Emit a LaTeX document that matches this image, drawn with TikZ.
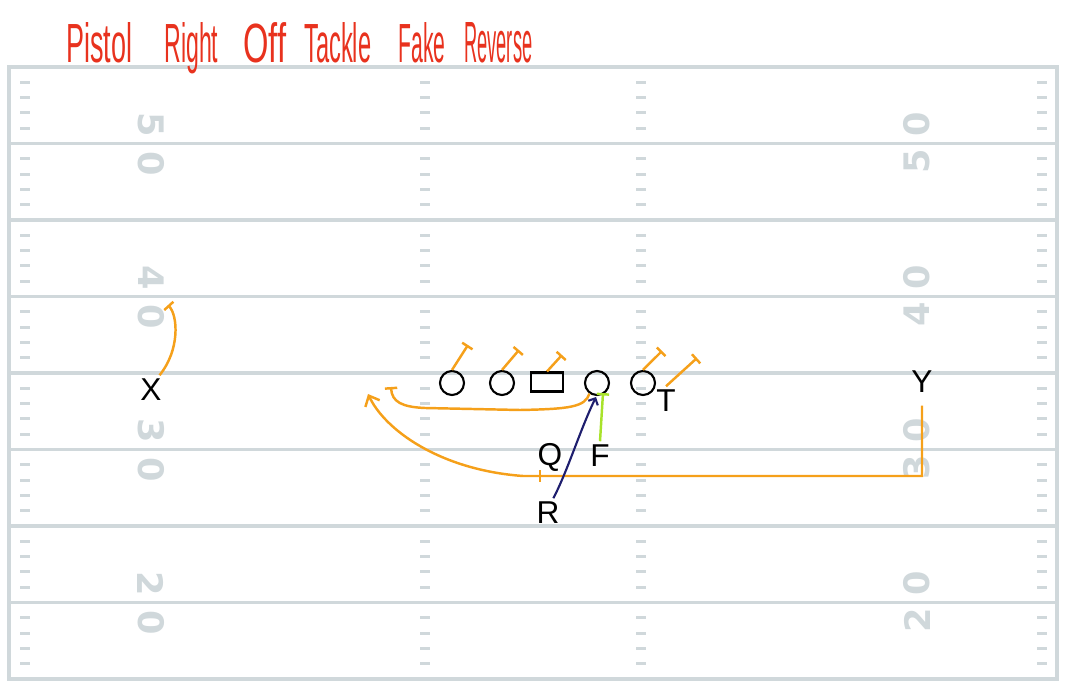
\documentclass[tikz,border=0pt]{standalone}
\usepackage{fontspec}
\setmainfont{Liberation Sans}
\newfontfamily\yardfont{DejaVu Sans}
\usepackage{xcolor}
\usepackage{graphicx}
\usepackage{tikz}
\usetikzlibrary{arrows.meta}
\definecolor{fieldgray}{HTML}{D0D8DB}
\definecolor{routeorange}{HTML}{F5A01A}
\definecolor{titlered}{HTML}{E8321E}
\definecolor{fakenavy}{HTML}{1E1E6E}
\definecolor{fblockgreen}{HTML}{A8E22A}

\begin{document}
\begin{tikzpicture}[x=0.02cm, y=-0.02cm,
    yardline/.style={draw=fieldgray, line width=1.8pt},
    yardnum/.style={text=fieldgray, font=\fontsize{20}{20}\yardfont\bfseries, inner sep=0},
    hand/.style={text=titlered, anchor=base west, inner sep=0},
    player/.style={shape=circle, draw=black, line width=1.2pt, minimum size=0.48cm, inner sep=0},
    ctrbox/.style={shape=rectangle, draw=black, line width=1.2pt, minimum width=0.64cm, minimum height=0.38cm, inner sep=0},
    lbl/.style={font=\fontsize{18}{18}\selectfont, inner sep=2pt},
    route/.style={draw=routeorange, line width=1.4pt},
    block/.style={route, -{Bar[width=7pt]}}]
    \useasboundingbox (0,0) rectangle (1075,685);

    \draw[yardline] (9,67) rectangle (1057,679);
    \foreach \i in {1,...,7} \draw[yardline] (9,67+76.5*\i) -- (1057,67+76.5*\i);
    \foreach \i in {0,...,7} \foreach \k in {1,...,4} \foreach \hx in {25,425,641,1042}
        \draw[yardline, line width=1.7pt] (\hx-5,67+76.5*\i+15.3*\k) -- (\hx+5,67+76.5*\i+15.3*\k);
    \foreach \yl/\d in {143.5/5, 296.5/4, 449.5/3, 602.5/2} {
        \node[yardnum, rotate=-90] (nl\d) at (151,\yl-19) {\d};
        \node[yardnum, rotate=-90] (zl\d) at (151,\yl+20) {0};
        \node[yardnum, rotate=90] (zr\d) at (917,\yl-19) {0};
        \node[yardnum, rotate=90] (nr\d) at (917,\yl+18) {\d};
    }

    \node[hand] (w1) at (66,63) {\resizebox{1.32cm}{0.8cm}{Pistol}};
    \node[hand] (w2) at (164,63) {\resizebox{1.08cm}{0.8cm}{Right}};
    \node[hand] (w3) at (243,63) {\resizebox{0.86cm}{0.8cm}{Off}};
    \node[hand] (w4) at (304,63) {\resizebox{1.34cm}{0.8cm}{Tackle}};
    \node[hand] (w5) at (398,63) {\resizebox{0.94cm}{0.8cm}{Fake}};
    \node[hand] (w6) at (464,63) {\resizebox{1.36cm}{0.8cm}{Reverse}};

    \node[player] (lt) at (452,383) {};
    \node[player] (lg) at (502,383) {};
    \node[ctrbox] (c) at (547,382) {};
    \node[player] (rg) at (597,383) {};
    \node[player] (rt) at (643,383) {};
    \node[lbl] (te) at (666,401) {T};
    \node[lbl] (x) at (151,390) {X};
    \node[lbl] (y) at (922,382) {Y};
    \node[lbl] (q) at (550,457) {Q};
    \node[lbl] (f) at (600,456) {F};
    \node[lbl] (r) at (548,513) {R};

    \coordinate (b1) at (468,345);
    \coordinate (b2) at (519,350);
    \coordinate (b3) at (562,355);
    \coordinate (b4) at (662,351);
    \coordinate (b5) at (697,358);
    \coordinate (pull) at (391,387);
    \coordinate (xb) at (168,305);
    \coordinate (yc) at (922,476);
    \coordinate (pitch) at (523,476);
    \coordinate (handoff) at (540,476);
    \coordinate (rev) at (368,394);
    \coordinate (fk) at (596,397);
    \coordinate (fb) at (603,393);

    \draw[block] (lt.north) -- (b1);
    \draw[block] (lg.north) -- (b2);
    \draw[block] (c.north) -- (b3);
    \draw[block] (rt.north) -- (b4);
    \draw[block] (te.north) -- (b5);
    \draw[block] (x.60) .. controls (180,350) and (178,316) .. (xb);
    \draw[block] (rg.235) .. controls (585,407) and (570,409) .. (520,410) -- (425,408) .. controls (402,407) and (392,402) .. (pull);
    \draw[route, -{Straight Barb[length=5pt,width=9pt]}] ([yshift=-0.18cm]y.south) -- (yc) -- (pitch) .. controls (440,470) and (385,430) .. (rev);
    \draw[route] ([yshift=0.12cm]handoff) -- ([yshift=-0.12cm]handoff);
    \draw[fblockgreen, line width=1.4pt, -{Bar[width=7pt]}] (f.north) -- (fb);
    \draw[fakenavy, line width=1.2pt, -{Straight Barb[length=3pt,width=6pt]}] (r.70) .. controls (568,470) and (580,430) .. (fk);
\end{tikzpicture}
\end{document}
